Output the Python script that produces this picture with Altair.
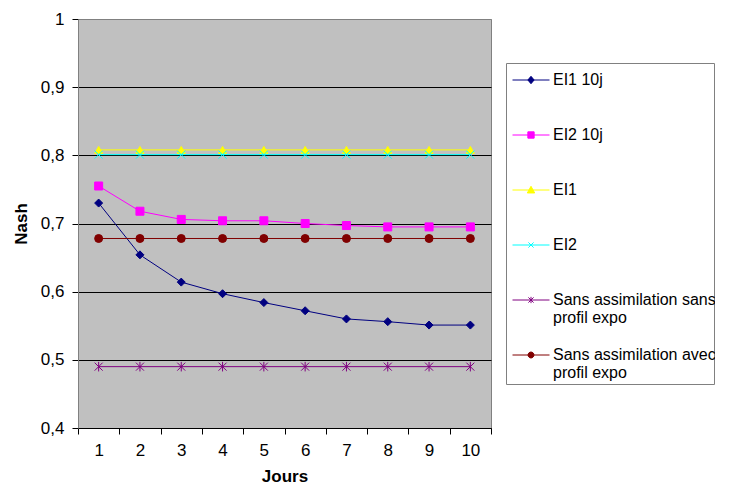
import altair as alt
import pandas as pd

# ---------------- data ----------------
days = [1, 2, 3, 4, 5, 6, 7, 8, 9, 10]
series_names = [
    "EI1 10j",
    "EI2 10j",
    "EI1",
    "EI2",
    "Sans assimilation sans profil expo",
    "Sans assimilation avec profil expo",
]
ei1_10j = [0.730, 0.654, 0.614, 0.597, 0.584, 0.572, 0.560, 0.556, 0.551, 0.551]
ei2_10j = [0.755, 0.718, 0.706, 0.704, 0.704, 0.700, 0.697, 0.695, 0.695, 0.695]
ei1 = [0.808, 0.808, 0.808, 0.808, 0.808, 0.808, 0.808, 0.808, 0.808, 0.808]
ei2 = [0.801, 0.801, 0.801, 0.801, 0.801, 0.801, 0.801, 0.801, 0.801, 0.801]
sans_sans = [0.490, 0.490, 0.490, 0.490, 0.490, 0.490, 0.490, 0.490, 0.490, 0.490]
sans_avec = [0.678, 0.678, 0.678, 0.678, 0.678, 0.678, 0.678, 0.678, 0.678, 0.678]
y_ticks = [0.4, 0.5, 0.6, 0.7, 0.8, 0.9, 1.0]

series_values = [ei1_10j, ei2_10j, ei1, ei2, sans_sans, sans_avec]

# ---------------- styles ----------------
colors = ["#000080", "#FF00FF", "#FFFF00", "#00FFFF", "#800080", "#800000"]
X_PATH = "M-1,-1L1,1M-1,1L1,-1"
STAR_PATH = "M-1,-1L1,1M-1,1L1,-1M0,-1.2L0,1.2"
point_shapes = ["diamond", "square", "triangle-up", X_PATH, STAR_PATH, "circle"]

# legend symbol: a line through the marker; the bare move only widens the
# symbol's vertical bounds so every legend row gets about the same height
LINE = "M0,1.55M-1,0L1,0"
legend_markers = [
    LINE + "M0,-0.2L0.17,0L0,0.2L-0.17,0Z",
    LINE + "M-0.17,-0.17L0.17,-0.17L0.17,0.17L-0.17,0.17Z",
    LINE + "M0,-0.2L0.2,0.16L-0.2,0.16Z",
    LINE + "M-0.14,-0.14L0.14,0.14M-0.14,0.14L0.14,-0.14",
    LINE + "M-0.14,-0.14L0.14,0.14M-0.14,0.14L0.14,-0.14M0,-0.17L0,0.17",
    LINE + "M-0.16,0A0.16,0.16,0,1,0,0.16,0A0.16,0.16,0,1,0,-0.16,0Z",
]

rows = []
for name, vals in zip(series_names, series_values):
    for d, v in zip(days, vals):
        rows.append({"jour": d, "nash": v, "serie": name})
df = pd.DataFrame(rows)

label_expr = (
    "indexof(datum.label, ' profil') > 0 ? "
    "[substring(datum.label, 0, indexof(datum.label, ' profil')), "
    "substring(datum.label, indexof(datum.label, ' profil') + 1)] : datum.label"
)

FONT = "Liberation Sans"
x_edges = [d - 0.5 for d in days] + [days[-1] + 0.5]
x_vals = sorted(days + x_edges)

x_scale = alt.Scale(domain=[0.5, 10.5], nice=False, zero=False)
y_scale = alt.Scale(domain=[0.4, 1.0], nice=False, zero=False)

x_axis = alt.Axis(
    values=x_vals,
    title="Jours",
    grid=False,
    labelExpr="datum.value % 1 === 0 ? format(datum.value, 'd') : ''",
    tickOpacity={"condition": {"test": "datum.value % 1 === 0", "value": 0}, "value": 1},
    tickSize=6,
    tickColor="black",
    domainColor="black",
    labelFont=FONT,
    labelFontSize=17,
    labelColor="black",
    labelPadding=8,
    titleFont=FONT,
    titleFontSize=17,
    titleFontWeight="bold",
    titleColor="black",
    titlePadding=10,
)

y_axis = alt.Axis(
    values=y_ticks,
    title="Nash",
    labelExpr="replace(format(datum.value, '.1~f'), '.', ',')",
    grid=True,
    gridColor={"condition": {"test": "datum.value >= 0.99", "value": "#808080"}, "value": "black"},
    gridWidth=1,
    tickSize=6,
    tickColor="black",
    domainColor="#808080",
    labelFont=FONT,
    labelFontSize=17,
    labelColor="black",
    labelPadding=8,
    titleFont=FONT,
    titleFontSize=17,
    titleFontWeight="bold",
    titleColor="black",
    titlePadding=10,
)

legend = alt.Legend(
    title=None,
    orient="none",
    legendX=428,
    legendY=44,
    labelFont=FONT,
    labelFontSize=16,
    labelColor="black",
    labelLimit=400,
    labelOffset=3,
    labelExpr=label_expr,
    strokeColor="#808080",
    fillColor="white",
    padding=-2,
    symbolOffset=8,
    rowPadding=5,
    symbolSize=1369,
    symbolStrokeWidth=1,
    symbolOpacity=1,
)

base = alt.Chart(df)
enc_x = alt.X("jour:Q", scale=x_scale, axis=x_axis)
enc_y = alt.Y("nash:Q", scale=y_scale, axis=y_axis)

lines = base.mark_line(strokeWidth=1).encode(
    x=enc_x,
    y=enc_y,
    color=alt.Color("serie:N", scale=alt.Scale(domain=series_names, range=colors), legend=None),
    order="jour:Q",
)

points = base.mark_point(filled=True, size=64, strokeWidth=1, opacity=1).encode(
    x=enc_x,
    y=enc_y,
    fill=alt.Fill("serie:N", scale=alt.Scale(domain=series_names, range=colors), legend=None),
    stroke=alt.Stroke("serie:N", scale=alt.Scale(domain=series_names, range=colors), legend=None),
    shape=alt.Shape("serie:N", scale=alt.Scale(domain=series_names, range=point_shapes), legend=None),
)

# legend-only layer: no marks drawn, legend symbols show line + marker
legend_layer = base.mark_point(filled=True, strokeWidth=1, opacity=1).encode(
    x=enc_x,
    y=enc_y,
    fill=alt.Fill("serie:N", scale=alt.Scale(domain=series_names, range=colors), legend=legend),
    stroke=alt.Stroke("serie:N", scale=alt.Scale(domain=series_names, range=colors), legend=legend),
    shape=alt.Shape("serie:N", scale=alt.Scale(domain=series_names, range=legend_markers), legend=legend),
).transform_filter("datum.jour > 100")

chart = (
    alt.layer(lines, points, legend_layer)
    .resolve_scale(fill="independent", stroke="independent", shape="independent")
    .properties(width=413, height=409, padding={"left": 4, "top": 2, "right": 0, "bottom": 0}, background="white")
    .configure_view(fill="#C0C0C0", stroke="#808080", strokeWidth=1)
)

chart.save("out.html", embed_options={"renderer": "svg", "actions": False})
